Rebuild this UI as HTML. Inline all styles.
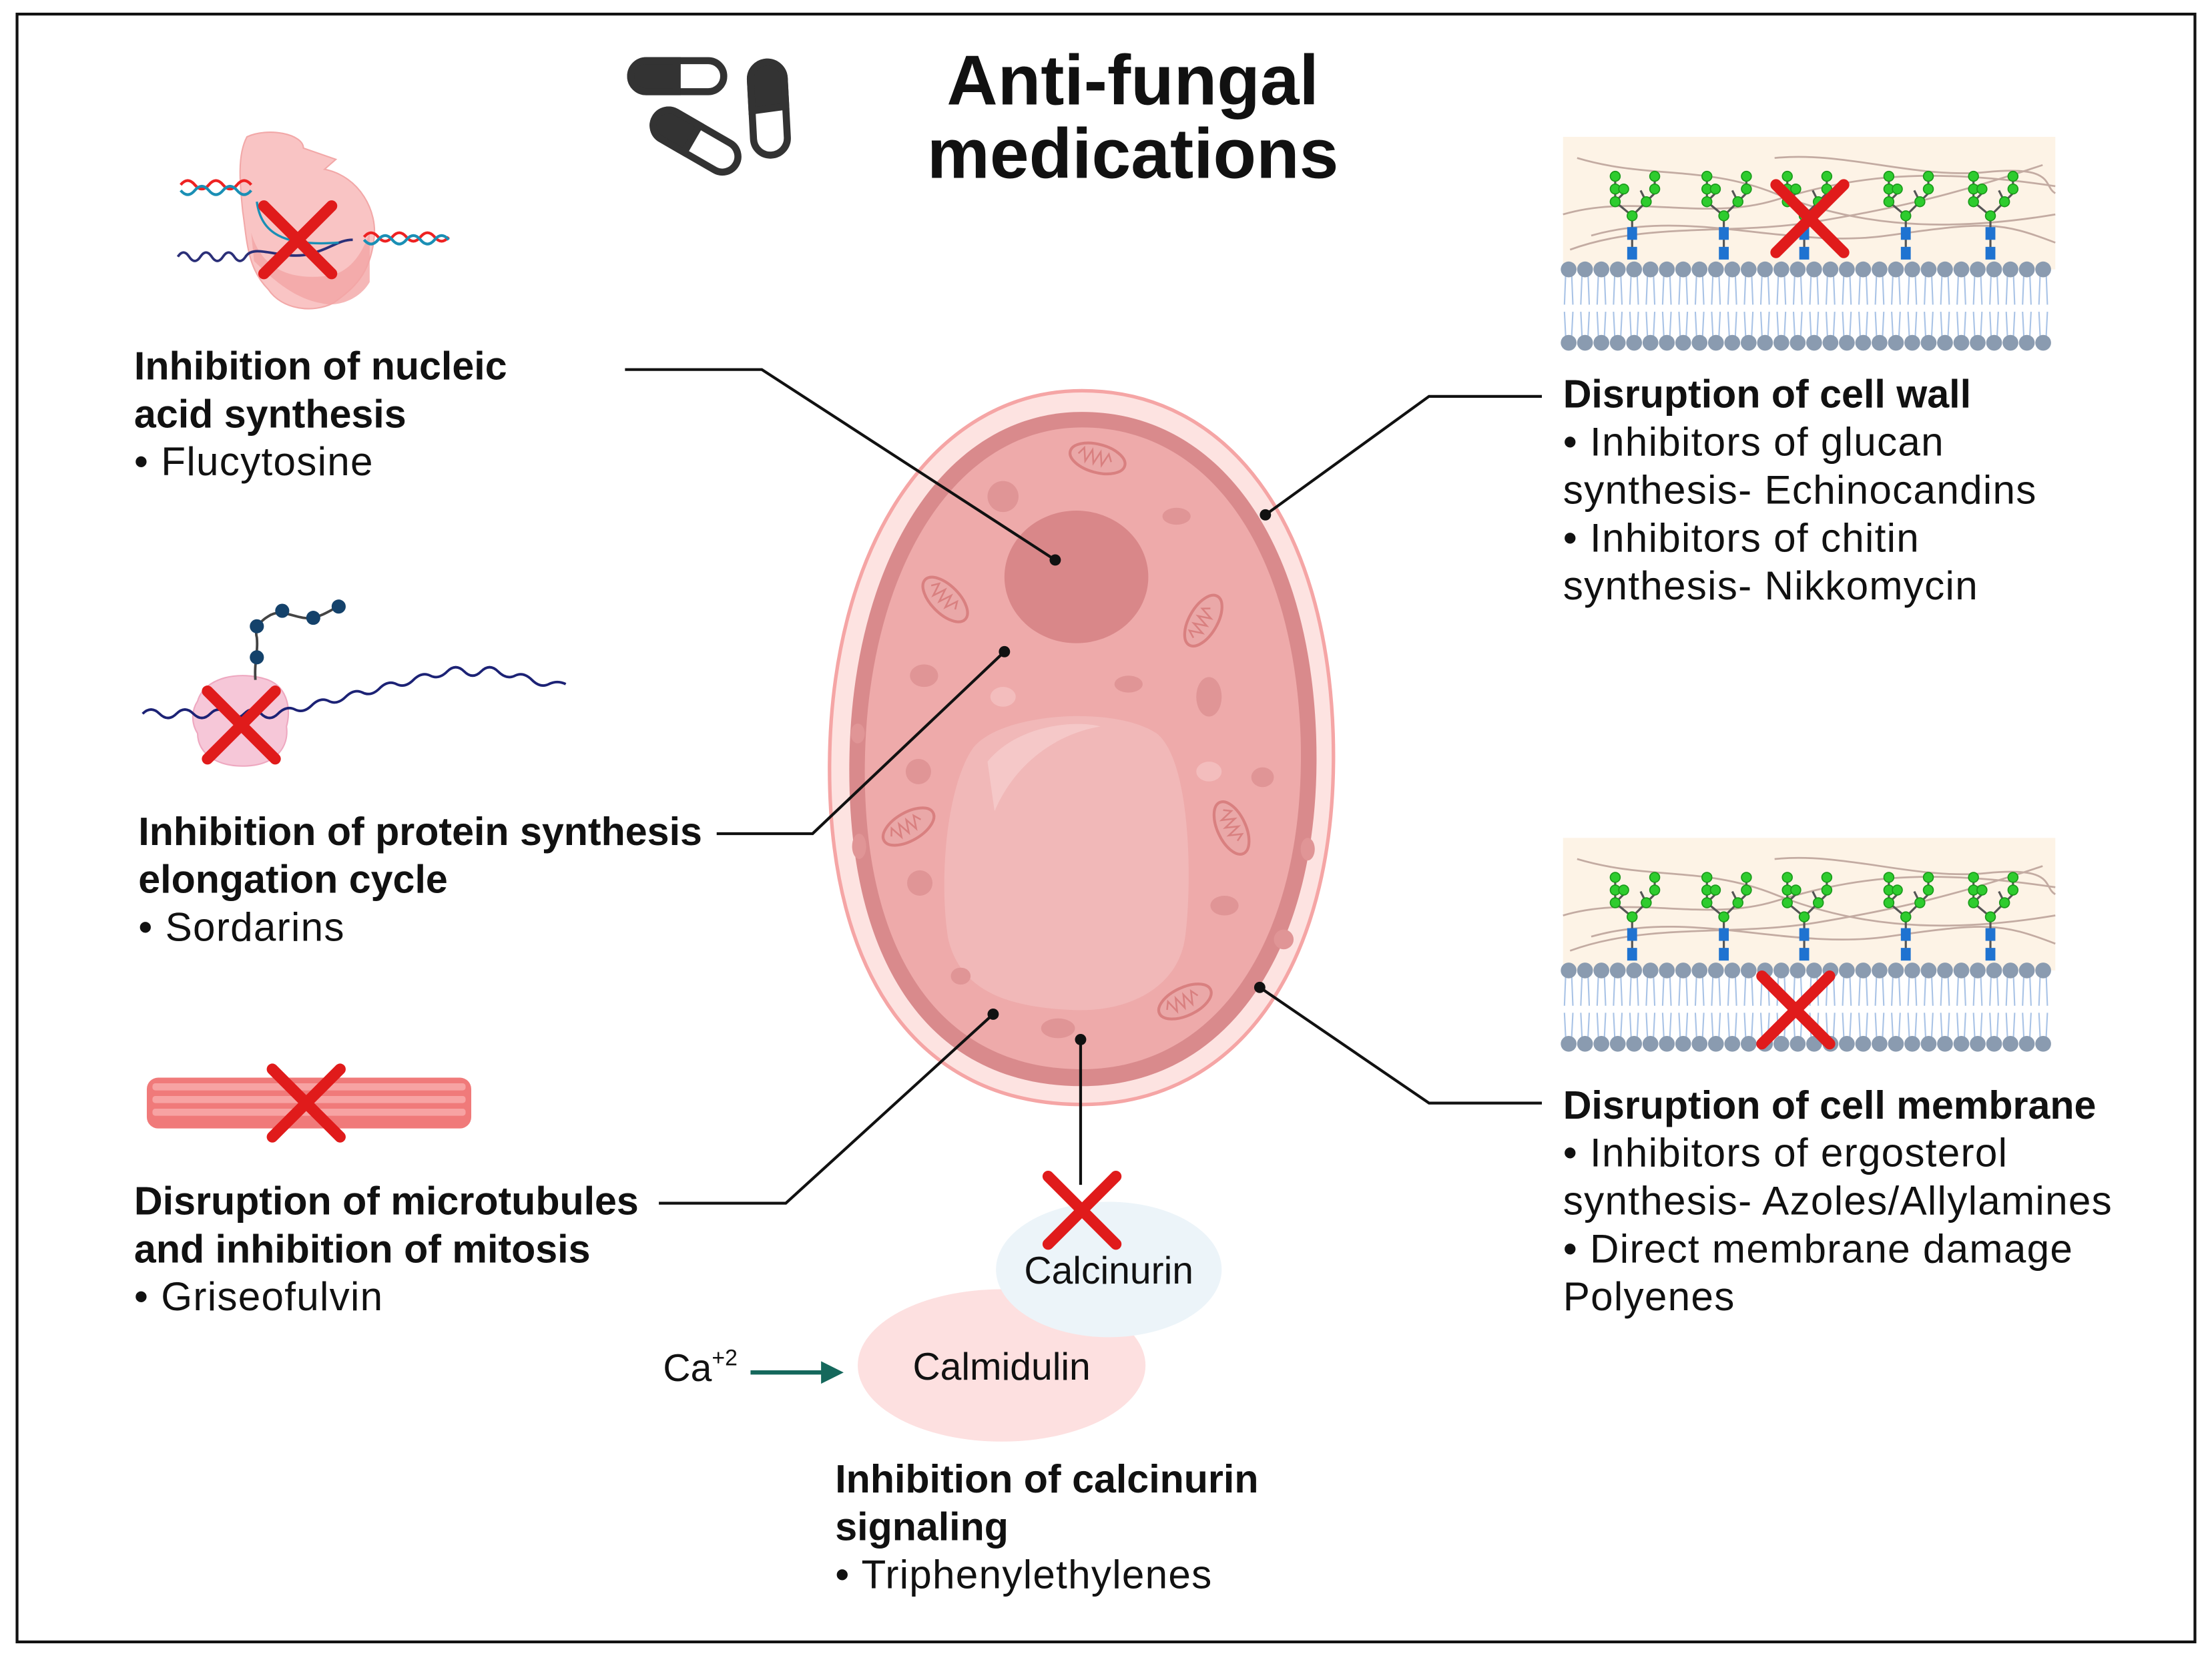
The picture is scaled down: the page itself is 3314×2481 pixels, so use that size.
<!DOCTYPE html>
<html><head><meta charset="utf-8"><style>
html,body{margin:0;padding:0;background:#fff;width:3314px;height:2481px;overflow:hidden}
svg{display:block}
text{font-family:"Liberation Sans",sans-serif;fill:#111}
.b{font-weight:bold;font-size:28px}
.r{font-size:28.5px;letter-spacing:0.6px}
.c{font-size:27px}
</style></head><body>
<svg width="3314" height="2481" viewBox="0 0 1568 1174" xmlns="http://www.w3.org/2000/svg">
<defs>
<g id="tree">
 <g stroke="#555" stroke-width="1.5" fill="none">
  <path d="M0,-8 V-38 L-12,-48 V-66 M0,-38 L10,-48 L16,-54 V-66 M10,-48 L6,-56 M-12,-48 L-6,-54"/>
 </g>
 <rect x="-3.5" y="-16" width="7" height="9" fill="#1f73d1"/>
 <rect x="-3.5" y="-30" width="7" height="9" fill="#1f73d1"/>
 <g fill="#2ecc2e" stroke="#1a9a1a" stroke-width="0.8">
  <circle cx="0" cy="-38" r="3.5"/><circle cx="-12" cy="-48" r="3.5"/><circle cx="-12" cy="-57" r="3.5"/><circle cx="-12" cy="-66" r="3.5"/>
  <circle cx="10" cy="-48" r="3.5"/><circle cx="-6" cy="-57" r="3.5"/><circle cx="16" cy="-57" r="3.5"/><circle cx="16" cy="-66" r="3.5"/>
 </g>
</g>
<g id="lipid">
 <path d="M-2,0 L-3,25 M2,0 L3,25 M-2,50 L-3,30 M2,50 L3,30" stroke="#a9c3e6" stroke-width="1"/>
 <circle cx="0" cy="0" r="5.6" fill="#8a9bb0"/>
 <circle cx="0" cy="52" r="5.6" fill="#8a9bb0"/>
</g>
<g id="xmark"><path d="M-24,-24 L24,24 M24,-24 L-24,24" stroke="#e01b1b" stroke-width="8" stroke-linecap="round"/></g>
<g id="mito">
 <ellipse cx="0" cy="0" rx="20" ry="10" fill="#eaa8a8" stroke="#d98080" stroke-width="2"/>
 <path d="M-14,0 l3,-5 l3,9 l3,-9 l3,9 l3,-9 l3,9 l3,-9 l3,5" stroke="#d98080" stroke-width="1.2" fill="none"/>
</g>
<g id="panel">
 <rect x="0" y="0" width="349" height="94" fill="#fdf3e6"/>
 <g stroke="#b59a92" stroke-width="1.3" fill="none" opacity="0.8">
  <path d="M10,15 C60,30 100,20 150,40 S260,70 349,55"/>
  <path d="M0,55 C50,40 100,60 150,45 S250,20 349,35"/>
  <path d="M5,80 C60,60 120,70 180,60 S280,40 340,20"/>
  <path d="M150,15 C200,10 250,30 300,25 S340,35 349,40"/>
  <path d="M20,70 C90,50 160,80 230,70 S310,60 349,75"/>
 </g>
</g>
<g id="mem">
  <use href="#lipid" x="4"/><use href="#lipid" x="15.6"/><use href="#lipid" x="27.2"/><use href="#lipid" x="38.8"/><use href="#lipid" x="50.4"/><use href="#lipid" x="62"/><use href="#lipid" x="73.6"/><use href="#lipid" x="85.2"/><use href="#lipid" x="96.8"/><use href="#lipid" x="108.4"/><use href="#lipid" x="120"/><use href="#lipid" x="131.6"/><use href="#lipid" x="143.2"/><use href="#lipid" x="154.8"/><use href="#lipid" x="166.4"/><use href="#lipid" x="178"/><use href="#lipid" x="189.6"/><use href="#lipid" x="201.2"/><use href="#lipid" x="212.8"/><use href="#lipid" x="224.4"/><use href="#lipid" x="236"/><use href="#lipid" x="247.6"/><use href="#lipid" x="259.2"/><use href="#lipid" x="270.8"/><use href="#lipid" x="282.4"/><use href="#lipid" x="294"/><use href="#lipid" x="305.6"/><use href="#lipid" x="317.2"/><use href="#lipid" x="328.8"/><use href="#lipid" x="340.4"/>
</g>
</defs>
<rect x="12" y="10" width="1544" height="1154" fill="#fff" stroke="#111" stroke-width="2"/>

<text x="803" y="74" text-anchor="middle" style="font-weight:bold;font-size:50px">Anti-fungal</text>
<text x="803" y="126" text-anchor="middle" style="font-weight:bold;font-size:50px">medications</text>
<g stroke="#333" stroke-width="5">
 <rect x="447" y="43" width="66" height="22" rx="11" fill="#fff"/>
 <path d="M458,43 H480 V65 H458 A11,11 0 0 1 458,43Z" fill="#333"/>
 <rect x="533" y="44" width="24" height="66" rx="12" fill="#fff" transform="rotate(-3 545 77)"/>
 <path d="M533,78 V56 A12,12 0 0 1 557,56 V76Z" fill="#333" transform="rotate(-3 545 77)"/>
 <g transform="rotate(30 493 100)">
  <rect x="460" y="89" width="66" height="22" rx="11" fill="#fff"/>
  <path d="M471,89 H490 V111 H471 A11,11 0 0 1 471,89Z" fill="#333"/>
 </g>
</g>

<g>
 <path d="M175,97 C190,90 215,95 215,105 L238,113 L230,120 C255,125 268,150 265,170 C262,195 250,205 236,215 C222,222 200,220 190,205 C175,190 175,170 172,150 C170,130 168,110 175,97Z" fill="#f9c4c4" stroke="#f2a8a8" stroke-width="1"/>
 <path d="M178,165 C185,190 205,200 236,195 C252,190 258,175 262,165 L262,200 C255,212 240,218 228,215 C210,212 195,200 180,185Z" fill="#f2a5a5" opacity="0.8"/>
 <path d="M128,131 q5,-6 10,0 t10,0 t10,0 t10,0 t10,0" stroke="#e22" stroke-width="2" fill="none"/>
 <path d="M128,135 q5,6 10,0 t10,0 t10,0 t10,0 t10,0" stroke="#1a8fb5" stroke-width="2" fill="none"/>
 <path d="M258,168 q5,-6 10,0 t10,0 t10,0 t10,0 t10,0 t10,0" stroke="#e22" stroke-width="2" fill="none"/>
 <path d="M258,170 q5,6 10,0 t10,0 t10,0 t10,0 t10,0 t10,0" stroke="#1a8fb5" stroke-width="2" fill="none"/>
 <path d="M126,182 q4,-6 8,0 t8,0 t8,0 t8,0 t8,0 t8,0 C180,172 200,185 220,180 C235,176 240,170 250,170" stroke="#2b2f78" stroke-width="1.8" fill="none"/>
 <path d="M182,143 C185,165 200,175 240,172" stroke="#1a8fb5" stroke-width="1.6" fill="none"/>
 <use href="#xmark" transform="translate(211,170)"/>
</g>

<g>
 <path d="M140,497 C145,480 170,475 190,482 C205,488 206,505 203,515 C205,530 195,542 175,543 C155,544 140,535 140,520 C135,512 136,503 140,497Z" fill="#f6c7d8" stroke="#eea8c0" stroke-width="1"/>
 <path d="M101,506 q6,-6 12,0 t12,0 t12,0 t12,0 t12,0 t12,0 t12,0 t12,0 t12,-3 t12,-3 t12,-3 t12,-3 t12,-3 t12,-3 t12,-3 t12,-3 t12,-3 t12,-3 t12,0 t12,0 t12,0 t12,3 t12,3 t12,3 t12,0" stroke="#1c2275" stroke-width="1.8" fill="none"/>
 <path d="M181,482 C180,470 183,462 182,452 C180,445 185,440 190,437 C200,430 210,440 222,438 C230,436 235,432 240,430" stroke="#444" stroke-width="1.8" fill="none"/>
 <g fill="#14426b"><circle cx="182" cy="466" r="5"/><circle cx="182" cy="444" r="5"/><circle cx="200" cy="433" r="5"/><circle cx="222" cy="438" r="5"/><circle cx="240" cy="430" r="5"/></g>
 <use href="#xmark" transform="translate(171,514)"/>
</g>

<g>
 <rect x="104" y="764" width="230" height="36" rx="8" fill="#f07a7a"/>
 <g fill="#f7a3a3">
  <rect x="108" y="768" width="222" height="5" rx="2"/>
  <rect x="108" y="777" width="222" height="5" rx="2"/>
  <rect x="108" y="786" width="222" height="5" rx="2"/>
 </g>
 <use href="#xmark" transform="translate(217,782)"/>
</g>

<text class="b" x="95" y="269">Inhibition of nucleic</text>
<text class="b" x="95" y="303">acid synthesis</text>
<text class="r" x="95" y="337">• Flucytosine</text>
<text class="b" x="98" y="599">Inhibition of protein synthesis</text>
<text class="b" x="98" y="633">elongation cycle</text>
<text class="r" x="98" y="667">• Sordarins</text>
<text class="b" x="95" y="861">Disruption of microtubules</text>
<text class="b" x="95" y="895">and inhibition of mitosis</text>
<text class="r" x="95" y="929">• Griseofulvin</text>

<g transform="translate(1108,97)">
 <use href="#panel"/>
 <g transform="translate(0,94)"><use href="#mem"/></g>
 <use href="#tree" transform="translate(49,94)"/><use href="#tree" transform="translate(114,94)"/><use href="#tree" transform="translate(171,94)"/><use href="#tree" transform="translate(243,94)"/><use href="#tree" transform="translate(303,94)"/>
 <use href="#xmark" transform="translate(175,58)"/>
</g>
<g transform="translate(1108,594)">
 <use href="#panel"/>
 <g transform="translate(0,94)"><use href="#mem"/></g>
 <use href="#tree" transform="translate(49,94)"/><use href="#tree" transform="translate(114,94)"/><use href="#tree" transform="translate(171,94)"/><use href="#tree" transform="translate(243,94)"/><use href="#tree" transform="translate(303,94)"/>
 <use href="#xmark" transform="translate(165,122)"/>
</g>

<text class="b" x="1108" y="289">Disruption of cell wall</text>
<text class="r" x="1108" y="323">• Inhibitors of glucan</text>
<text class="r" x="1108" y="357">synthesis- Echinocandins</text>
<text class="r" x="1108" y="391">• Inhibitors of chitin</text>
<text class="r" x="1108" y="425">synthesis- Nikkomycin</text>
<text class="b" x="1108" y="793">Disruption of cell membrane</text>
<text class="r" x="1108" y="827">• Inhibitors of ergosterol</text>
<text class="r" x="1108" y="861">synthesis- Azoles/Allylamines</text>
<text class="r" x="1108" y="895">• Direct membrane damage</text>
<text class="r" x="1108" y="929">Polyenes</text>

<path d="M767,277 C870,277 940,370 945,520 C950,680 880,783 767,783 C650,783 588,690 588,545 C588,390 660,277 767,277Z" fill="#fde3e1" stroke="#f5a5a5" stroke-width="2.5"/>
<path d="M767,292 C862,292 928,380 933,522 C938,670 872,770 767,770 C658,770 602,682 602,546 C602,400 668,292 767,292Z" fill="#d98a8c"/>
<path d="M767,303 C855,303 917,386 922,523 C926,664 864,758 767,758 C666,758 613,676 613,547 C613,408 675,303 767,303Z" fill="#eeaaaa"/>
<ellipse cx="763" cy="409" rx="51" ry="47" fill="#d98789"/>
<path d="M690,530 C710,505 790,500 820,520 C845,540 845,630 840,665 C835,700 800,718 760,716 C710,714 680,700 672,665 C665,620 672,555 690,530Z" fill="#f1b8b8"/>
<path d="M700,540 C720,515 760,510 780,515 C750,520 720,540 705,575Z" fill="#f5c8c8"/>
<g fill="#e09596">
 <ellipse cx="711" cy="352" rx="11" ry="11"/><ellipse cx="834" cy="366" rx="10" ry="6"/><ellipse cx="655" cy="479" rx="10" ry="8"/><ellipse cx="800" cy="485" rx="10" ry="6"/><ellipse cx="857" cy="494" rx="9" ry="14"/><ellipse cx="651" cy="547" rx="9" ry="9"/><ellipse cx="895" cy="551" rx="8" ry="7"/><ellipse cx="652" cy="626" rx="9" ry="9"/><ellipse cx="868" cy="642" rx="10" ry="7"/><ellipse cx="681" cy="692" rx="7" ry="6"/><ellipse cx="750" cy="729" rx="12" ry="7"/><ellipse cx="910" cy="666" rx="7" ry="7"/><ellipse cx="608" cy="520" rx="5" ry="7"/><ellipse cx="609" cy="600" rx="5" ry="9"/><ellipse cx="927" cy="602" rx="5" ry="8"/>
</g>
<g fill="#f3bdbd"><ellipse cx="711" cy="494" rx="9" ry="7"/><ellipse cx="857" cy="547" rx="9" ry="7"/></g>
<use href="#mito" transform="translate(778,325) rotate(15)"/>
<use href="#mito" transform="translate(670,425) rotate(45)"/>
<use href="#mito" transform="translate(853,440) rotate(-60)"/>
<use href="#mito" transform="translate(644,586) rotate(-30)"/>
<use href="#mito" transform="translate(873,587) rotate(65)"/>
<use href="#mito" transform="translate(840,710) rotate(-25)"/>

<g stroke="#111" stroke-width="2" fill="none">
 <path d="M443,262 H540 L748,397"/>
 <path d="M508,591 H576 L712,462"/>
 <path d="M467,853 H557 L704,719"/>
 <path d="M766,737 V840"/>
 <path d="M897,365 L1013,281 H1093"/>
 <path d="M893,700 L1013,782 H1093"/>
</g>
<g fill="#111">
 <circle cx="748" cy="397" r="4"/><circle cx="712" cy="462" r="4"/><circle cx="704" cy="719" r="4"/><circle cx="766" cy="737" r="4"/><circle cx="897" cy="365" r="4"/><circle cx="893" cy="700" r="4"/>
</g>

<ellipse cx="710" cy="968" rx="102" ry="54" fill="#fde0e0"/>
<ellipse cx="786" cy="900" rx="80" ry="48" fill="#ecf4f9"/>
<use href="#xmark" transform="translate(767,858)"/>
<text x="786" y="910" text-anchor="middle" class="c">Calcinurin</text>
<text x="710" y="978" text-anchor="middle" class="c">Calmidulin</text>
<text x="470" y="979" class="c">Ca<tspan dy="-11" font-size="16">+2</tspan></text>
<path d="M532,973 H585" stroke="#15685c" stroke-width="3"/>
<path d="M582,965 L598,973 L582,981Z" fill="#15685c"/>

<text class="b" x="592" y="1058">Inhibition of calcinurin</text>
<text class="b" x="592" y="1092">signaling</text>
<text class="r" x="592" y="1126">• Triphenylethylenes</text>
</svg>
</body></html>
